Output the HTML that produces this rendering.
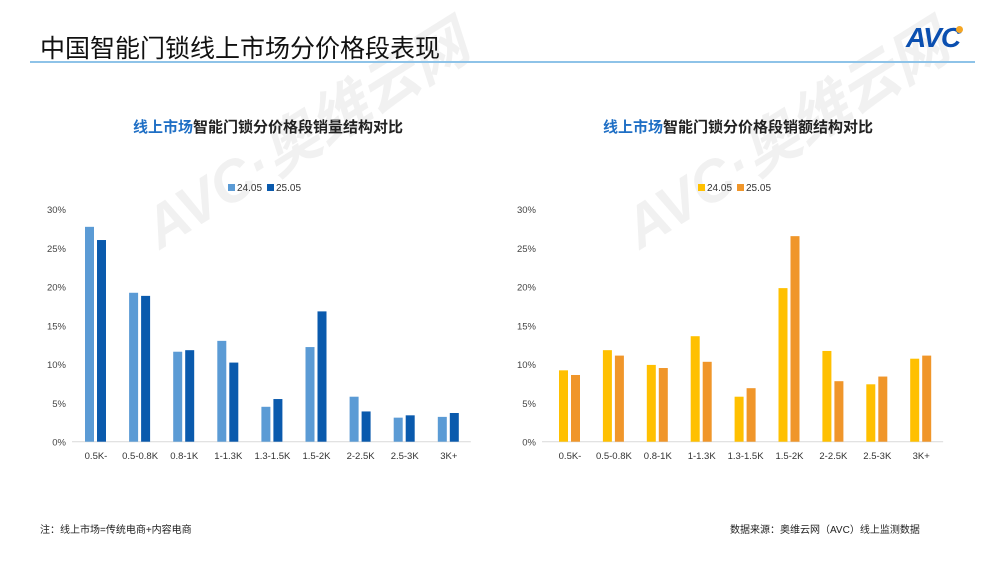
<!DOCTYPE html>
<html><head><meta charset="utf-8">
<style>
body{margin:0;width:1000px;height:562px;background:#fff;overflow:hidden;position:relative;font-family:"Liberation Sans","Noto Sans CJK SC",sans-serif;}
.abs{position:absolute;}
</style></head><body>
<svg class="abs" style="left:0;top:0" width="1000" height="562" id="svg"></svg>
<div class="abs" style="left:40px;top:29px;font-size:25px;color:#111;white-space:nowrap;">中国智能门锁线上市场分价格段表现</div>
<div class="abs" style="left:906px;top:22px;font-size:28px;font-weight:bold;font-style:italic;color:#0b4fb0;letter-spacing:-1px;">AVC<span style="display:inline-block;width:7px;height:7px;border-radius:50%;background:#f5a623;vertical-align:top;margin-left:-4px;margin-top:4px;"></span></div>
<div class="abs" style="left:30px;top:61px;width:945px;height:2px;background:#8ec3e8;"></div>
<div class="abs" style="left:40px;top:521px;font-size:10px;color:#222;">注：线上市场=传统电商+内容电商</div>
<div class="abs" style="left:730px;top:521px;font-size:10px;color:#222;">数据来源：奥维云网（AVC）线上监测数据</div>
<script>
const categories=["0.5K-","0.5-0.8K","0.8-1K","1-1.3K","1.3-1.5K","1.5-2K","2-2.5K","2.5-3K","3K+"];
const seriesNames=["24.05","25.05"];
const volume2405=[27.7,19.2,11.6,13.0,4.5,12.2,5.8,3.1,3.2];
const volume2505=[26.0,18.8,11.8,10.2,5.5,16.8,3.9,3.4,3.7];
const value2405=[9.2,11.8,9.9,13.6,5.8,19.8,11.7,7.4,10.7];
const value2505=[8.6,11.1,9.5,10.3,6.9,26.5,7.8,8.4,11.1];
const yTicks=[0,5,10,15,20,25,30];
const NS="http://www.w3.org/2000/svg";
const svg=document.getElementById('svg');
function mk(tag,attrs,parent){const e=document.createElementNS(NS,tag);for(const k in attrs)e.setAttribute(k,attrs[k]);(parent||svg).appendChild(e);return e;}
[[160,250],[640,250]].forEach(p=>{
 const t=mk('text',{x:p[0],y:p[1],transform:`rotate(-32 ${p[0]} ${p[1]})`,'font-size':58,'font-weight':'bold','font-style':'italic',fill:'#f1f1f1','font-family':'Liberation Sans, Noto Sans CJK SC, sans-serif'});
 
 
 t.textContent='AVC·奥维云网';
});
function chart(ox,cx0,step,title,s1,s2,c1,c2,name){
 const g=mk('g',{});
 
 
 const y0=441.7,yTop=209;
 const ys=v=>y0-(v/30)*(y0-yTop);
 const xs=i=>cx0+i*step;
 const tt=mk('text',{x:ox+228,y:132,'text-anchor':'middle','font-size':15,'font-weight':'bold',fill:'#222'},g);
 
 
 tt.innerHTML='<tspan fill="#1f6fc5">线上市场</tspan>'+title;
 [[c1,seriesNames[0],ox+188],[c2,seriesNames[1],ox+227]].forEach(l=>{
  const r=mk('rect',{x:l[2],y:184,width:7,height:7,fill:l[0]},g);
  
  
  const t=mk('text',{x:l[2]+9,y:191,'font-size':10,fill:'#333'},g);
  
  
  t.textContent=l[1];
 });
 yTicks.forEach(v=>{
  const t=mk('text',{x:ox+26,y:ys(v)+4,'text-anchor':'end','font-size':9.5,fill:'#444'},g);
  
  
  t.textContent=v+'%';
 });
 const ax=mk('line',{x1:ox+32,x2:ox+432,y1:y0,y2:y0,stroke:'#d9d9d9'},g);
 ax.setAttribute('x2',xs(8)+step/2);
 
 
 categories.forEach((c,i)=>{
  const b1=mk('rect',{x:xs(i)-11,y:ys(s1[i]),width:9,height:y0-ys(s1[i]),fill:c1},g);
  
  
  const b2=mk('rect',{x:xs(i)+1,y:ys(s2[i]),width:9,height:y0-ys(s2[i]),fill:c2},g);
  
  
  const t=mk('text',{x:xs(i),y:459,'text-anchor':'middle','font-size':9.5,fill:'#333'},g);
  
  
  t.textContent=c;
 });
}
chart(40,96,44.1,'智能门锁分价格段销量结构对比',volume2405,volume2505,'#5b9bd5','#0a5aad','volume-chart');
chart(510,570,43.9,'智能门锁分价格段销额结构对比',value2405,value2505,'#ffc000','#f0962a','value-chart');
</script>
</body></html>
